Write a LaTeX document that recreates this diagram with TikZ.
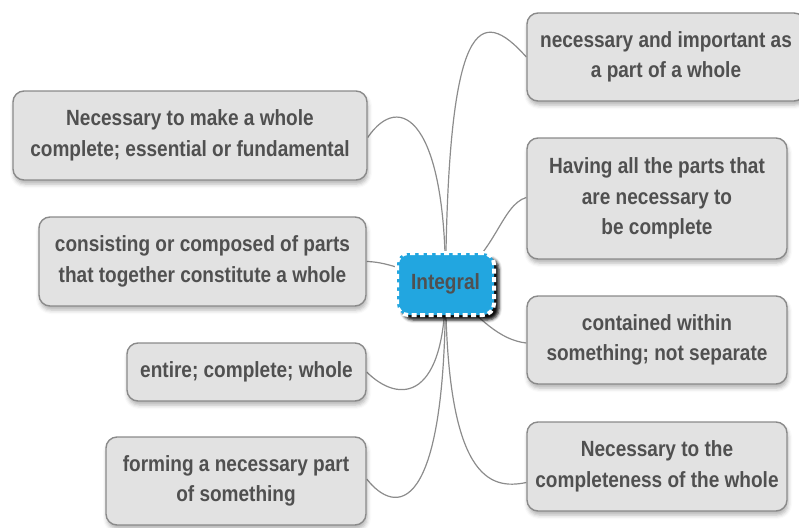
\documentclass[tikz,border=0pt]{standalone}
\usepackage{fontspec}
\newfontfamily\boxfont[FakeStretch=0.865]{Liberation Sans}
\usetikzlibrary{shadows.blur}
\pgfdeclarelayer{bg}
\pgfsetlayers{bg,main}
\definecolor{boxfill}{HTML}{E2E2E2}
\definecolor{boxline}{HTML}{8A8A8A}
\definecolor{ink}{HTML}{505050}
\definecolor{hub}{HTML}{22A6E0}
\definecolor{wire}{HTML}{8C8C8C}
\tikzset{
  leaf/.style={draw=boxline, line width=1.4pt, fill=boxfill, rounded corners=11pt,
    inner sep=0pt, align=center, text=ink,
    font=\boxfont\bfseries\fontsize{22}{30.5}\selectfont,
    blur shadow={shadow xshift=1pt, shadow yshift=-4pt, shadow blur radius=4pt, shadow opacity=30}},
  hubbox/.style={draw=white, line width=4pt, dash pattern=on 5pt off 3.5pt, fill=hub,
    rounded corners=11pt, inner sep=0pt, text=ink,
    font=\boxfont\bfseries\fontsize{22}{30.5}\selectfont,
    blur shadow={shadow xshift=5pt, shadow yshift=-5pt, shadow blur radius=3pt, shadow opacity=95}},
  link/.style={draw=wire, line width=1.2pt}
}
\begin{document}
\begin{tikzpicture}[x=1pt,y=-1pt]
\useasboundingbox (0,0) rectangle (799,527);
\clip (0,0) rectangle (799,527);

% central topic
\node[hubbox, minimum width=97pt, minimum height=62pt] (c) at (445.5,284) {Integral};

% right-hand branches
\node[leaf, minimum width=278pt, minimum height=88pt] (r1) at (666,57)
  {necessary and important as\\a part of a whole};
\node[leaf, minimum width=260pt, minimum height=121pt] (r2) at (657,198.5)
  {Having all the parts that\\are necessary to\\be complete};
\node[leaf, minimum width=260pt, minimum height=88pt] (r3) at (657,340)
  {contained within\\something; not separate};
\node[leaf, minimum width=260pt, minimum height=89pt] (r4) at (657,466.5)
  {Necessary to the\\completeness of the whole};

% left-hand branches
\node[leaf, minimum width=354pt, minimum height=89pt] (l1) at (190,135.5)
  {Necessary to make a whole\\complete; essential or fundamental};
\node[leaf, minimum width=327pt, minimum height=89pt] (l2) at (202.5,261.5)
  {consisting or composed of parts\\that together constitute a whole};
\node[leaf, minimum width=239pt, minimum height=58pt] (l3) at (246.5,372)
  {entire; complete; whole};
\node[leaf, minimum width=260pt, minimum height=88pt] (l4) at (236,481)
  {forming a necessary part\\of something};

% connectors, drawn beneath the boxes
\begin{pgfonlayer}{bg}
\draw[link] (c.center) .. controls (448,15) and (480,5) .. (r1.west);
\draw[link] (c.center) .. controls (495,260) and (500,205) .. ([yshift=1pt]r2.west);
\draw[link] (c.center) .. controls (480,320) and (500,340) .. ([yshift=-3pt]r3.west);
\draw[link] (c.center) .. controls (446,480) and (490,490) .. ([yshift=-16pt]r4.west);
\draw[link] (c.center) .. controls (446,120) and (400,90) .. ([yshift=-2pt]l1.east);
\draw[link] (c.center) .. controls (400,268) and (385,262) .. (l2.east);
\draw[link] (c.center) .. controls (446,400) and (400,405) .. (l3.east);
\draw[link] (c.center) .. controls (446,520) and (395,515) .. ([yshift=2pt]l4.east);
\end{pgfonlayer}
\end{tikzpicture}
\end{document}
